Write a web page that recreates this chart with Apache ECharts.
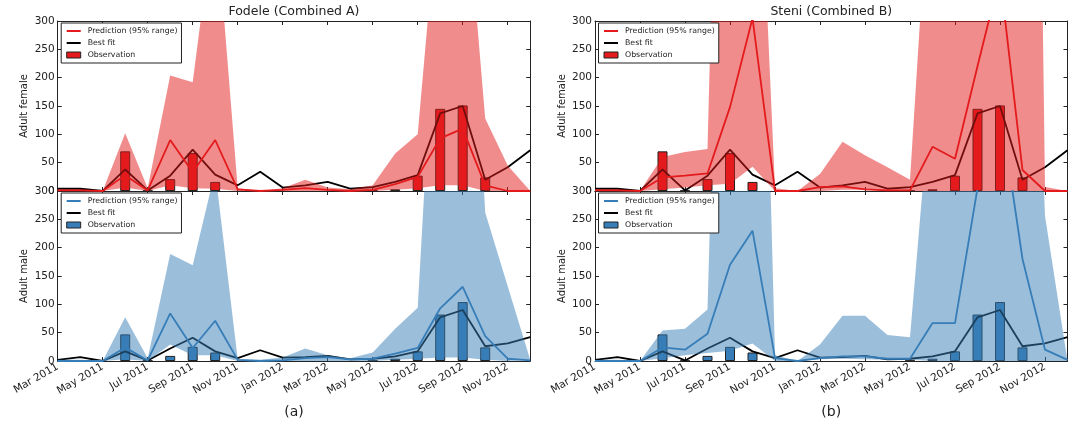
<!DOCTYPE html>
<html>
<head>
<meta charset="utf-8">
<script src="https://cdn.jsdelivr.net/npm/echarts@6.0.0/dist/echarts.min.js"></script>
<style>
  html, body { margin: 0; padding: 0; background: #fff; }
  #chart { width: 1072px; height: 427px; }
</style>
</head>
<body>
<div id="chart"></div>
<script>
// monthly samples, Mar 2011 .. Dec 2012
var months = ['Mar 2011', 'Apr 2011', 'May 2011', 'Jun 2011', 'Jul 2011', 'Aug 2011', 'Sep 2011', 'Oct 2011',
  'Nov 2011', 'Dec 2011', 'Jan 2012', 'Feb 2012', 'Mar 2012', 'Apr 2012', 'May 2012', 'Jun 2012',
  'Jul 2012', 'Aug 2012', 'Sep 2012', 'Oct 2012', 'Nov 2012', 'Dec 2012'];
var yTicks = [0, 50, 100, 150, 200, 250, 300];

// observations (same for both sites)
var obsFemale = [null, null, null, 70, 0.8, 21, 67, 16, null, null, null, null, null, null, 0.8, 3, 27, 145, 151, 24, null, null];
var obsMale = [null, null, null, 47, 0.8, 9, 25, 15, null, null, null, null, null, null, 0.8, 4, 17, 82, 104, 24, null, null];

// best fit
var bestFitFemale = [4, 4, 0, 38, 1, 27, 73, 29, 10, 34, 6, 10, 16, 4, 7, 16, 28, 137, 150, 20, 42, 72];
var bestFitMale = [2, 7, 0, 17, 1, 22, 41, 17, 5, 19, 6, 7, 9, 3, 4, 8, 17, 77, 90, 26, 31, 42];

// Fodele (Combined A)
var predFodeleF = [1, 1, 0, 28, 1, 90, 33, 90, 3, 0, 2, 5, 2, 0, 2, 12, 25, 93, 110, 10, 0, 0];
var upperFodeleF = [3, 3, 0, 102, 5, 204, 192, 500, 5, 0, 5, 20, 6, 3, 10, 66, 100, 550, 600, 128, 45, 0];
var lowerFodeleF = [0, 0, 0, 6, 0, 10, 5, 4, 0, 0, 0, 0, 0, 0, 0, 2, 5, 10, 10, 0, 0, 0];
var predFodeleM = [0, 0, 0, 24, 1, 84, 23, 71, 2, 0, 1, 5, 7, 3, 4, 13, 23, 93, 131, 44, 4, 1];
var upperFodeleM = [2, 2, 0, 77, 5, 189, 169, 335, 3, 2, 6, 22, 10, 5, 15, 57, 94, 800, 1000, 262, 132, 2];
var lowerFodeleM = [0, 0, 0, 3, 0, 29, 10, 10, 0, 0, 0, 0, 0, 0, 0, 2, 4, 6, 6, 2, 0, 0];

// Steni (Combined B)
var predSteniF = [1, 1, 0, 24, 27, 31, 148, 305, 0, 0, 7, 8, 3, 1, 1, 78, 57, 220, 380, 37, 0, 0];
var upperSteniF = [3, 3, 0, 60, 69, 74, 1600, 900, 5, 0, 30, 87, 63, 42, 20, 650, 1500, 3000, 3000, 3000, 7, 0];
var lowerSteniF = [0, 0, 0, 3, 6, 10, 13, 43, 0, 0, 0, 2, 2, 0, 0, 0, 0, 0, 0, 0, 0, 0];
var predSteniM = [0, 0, 0, 24, 20, 48, 170, 230, 5, 0, 5, 8, 8, 4, 4, 67, 67, 305, 450, 180, 20, 2];
var upperSteniM = [2, 2, 0, 54, 57, 91, 1500, 1500, 10, 0, 29, 80, 80, 46, 42, 510, 2000, 2000, 2000, 1250, 256, 0];
var lowerSteniM = [0, 0, 0, 5, 10, 14, 18, 31, 0, 0, 3, 4, 3, 2, 2, 0, 0, 0, 0, 0, 0, 0];

var red = '#e41a1c', redBand = 'rgba(228,26,28,0.5)';
var blue = '#377eb8', blueBand = 'rgba(55,126,184,0.5)';
var font = 'DejaVu Sans';
var ink = '#222';
var lineIcon = 'path://M0,0 L14,0 L14,2 L0,2 Z';

var panels = [
  { pos: [57.7, 21], obs: obsFemale, fit: bestFitFemale, pred: predFodeleF, hi: upperFodeleF, lo: lowerFodeleF, color: red, band: redBand, yName: 'Adult female', bottom: false },
  { pos: [57.7, 191], obs: obsMale, fit: bestFitMale, pred: predFodeleM, hi: upperFodeleM, lo: lowerFodeleM, color: blue, band: blueBand, yName: 'Adult male', bottom: true },
  { pos: [595, 21], obs: obsFemale, fit: bestFitFemale, pred: predSteniF, hi: upperSteniF, lo: lowerSteniF, color: red, band: redBand, yName: 'Adult female', bottom: false },
  { pos: [595, 191], obs: obsMale, fit: bestFitMale, pred: predSteniM, hi: upperSteniM, lo: lowerSteniM, color: blue, band: blueBand, yName: 'Adult male', bottom: true }
];
var W = 472.5, H = 170;

var grid = [], xAxis = [], yAxis = [], series = [], legend = [];

panels.forEach(function (p, g) {
  grid.push({ left: p.pos[0], top: p.pos[1], width: W, height: H, show: false });

  // bottom x axis
  xAxis.push({
    gridIndex: g, type: 'category', data: months, boundaryGap: false, position: 'bottom',
    axisLine: { show: true, onZero: false, lineStyle: { color: ink, width: 1 } },
    axisTick: { show: true, inside: true, interval: 1, length: 4, lineStyle: { color: ink } },
    axisLabel: { show: p.bottom, interval: 1, rotate: 30, margin: 5, fontSize: 10.5, fontFamily: font, color: ink },
    splitLine: { show: false }
  });
  // y axis
  yAxis.push({
    gridIndex: g, type: 'value', min: yTicks[0], max: yTicks[yTicks.length - 1], interval: yTicks[1] - yTicks[0],
    position: 'left',
    name: p.yName, nameLocation: 'middle', nameGap: 28,
    nameTextStyle: { fontSize: 10, fontFamily: font, color: ink },
    axisLine: { show: true, onZero: false, lineStyle: { color: ink, width: 1 } },
    axisTick: { show: true, inside: true, length: 4, lineStyle: { color: ink } },
    axisLabel: { margin: 3, fontSize: 10.5, fontFamily: font, color: ink },
    splitLine: { show: false }
  });

  var band = p.hi.map(function (v, i) { return v - p.lo[i]; });

  series.push({
    name: 'Observation', type: 'bar', xAxisIndex: g, yAxisIndex: g, data: p.obs, barWidth: 10, z: 1,
    itemStyle: { color: p.color, borderColor: ink, borderWidth: 1 }
  });
  series.push({
    name: 'Best fit', type: 'line', xAxisIndex: g, yAxisIndex: g, data: p.fit, symbol: 'none', z: 2,
    itemStyle: { color: '#000' }, lineStyle: { color: '#000', width: 1.8 }
  });
  series.push({
    name: 'lower' + g, type: 'line', xAxisIndex: g, yAxisIndex: g, data: p.lo, stack: 'band' + g,
    symbol: 'none', silent: true, z: 3, lineStyle: { opacity: 0 }
  });
  series.push({
    name: 'band' + g, type: 'line', xAxisIndex: g, yAxisIndex: g, data: band, stack: 'band' + g,
    symbol: 'none', silent: true, z: 3, lineStyle: { width: 0, opacity: 0 },
    areaStyle: { color: p.band, opacity: 1 }
  });
  series.push({
    name: 'Prediction (95% range)', type: 'line', xAxisIndex: g, yAxisIndex: g, data: p.pred, symbol: 'none', z: 4,
    itemStyle: { color: p.color }, lineStyle: { color: p.color, width: 1.8 }
  });

  legend.push({
    left: p.pos[0] + 3.5, top: p.pos[1] + 2, orient: 'vertical', selectedMode: false, z: 10,
    itemWidth: 14, itemHeight: 6, itemGap: 4, padding: [4, 4, 4, 5],
    borderColor: ink, borderWidth: 1, backgroundColor: '#fff',
    textStyle: { fontSize: 7.8, fontFamily: font, color: ink, padding: [0, 0, 0, 2] },
    data: [
      { name: 'Prediction (95% range)', icon: lineIcon, itemStyle: { color: p.color, borderWidth: 0 } },
      { name: 'Best fit', icon: lineIcon, itemStyle: { color: '#000', borderWidth: 0 } },
      { name: 'Observation', icon: 'rect', itemStyle: { color: p.color, borderColor: ink, borderWidth: 1 } }
    ]
  });
});

// top and right frame sides with inward ticks
panels.forEach(function (p, g) {
  xAxis.push({
    gridIndex: g, type: 'category', data: months, boundaryGap: false, position: 'top',
    axisLine: { show: true, onZero: false, lineStyle: { color: ink, width: 1 } },
    axisTick: { show: true, inside: true, interval: 1, length: 4, lineStyle: { color: ink } },
    axisLabel: { show: false }, splitLine: { show: false }
  });
  yAxis.push({
    gridIndex: g, type: 'value', min: yTicks[0], max: yTicks[yTicks.length - 1], interval: yTicks[1] - yTicks[0], position: 'right',
    axisLine: { show: true, onZero: false, lineStyle: { color: ink, width: 1 } },
    axisTick: { show: true, inside: true, length: 4, lineStyle: { color: ink } },
    axisLabel: { show: false }, splitLine: { show: false }
  });
});

function label(text, x, y, size) {
  return {
    type: 'text', x: x, y: y, z: 20,
    style: { text: text, fontSize: size, fontFamily: font, fill: ink, textAlign: 'center', textVerticalAlign: 'middle' }
  };
}

var chart = echarts.init(document.getElementById('chart'), null, { renderer: 'canvas' });
chart.setOption({
  animation: false,
  backgroundColor: '#fff',
  grid: grid,
  xAxis: xAxis,
  yAxis: yAxis,
  legend: legend,
  series: series,
  graphic: [
    label('Fodele (Combined A)', 57.7 + W / 2, 12, 12.5),
    label('Steni (Combined B)', 595 + W / 2, 12, 12.5),
    label('(a)', 57.7 + W / 2, 412, 14),
    label('(b)', 595 + W / 2, 412, 14)
  ]
});
</script>
</body>
</html>
